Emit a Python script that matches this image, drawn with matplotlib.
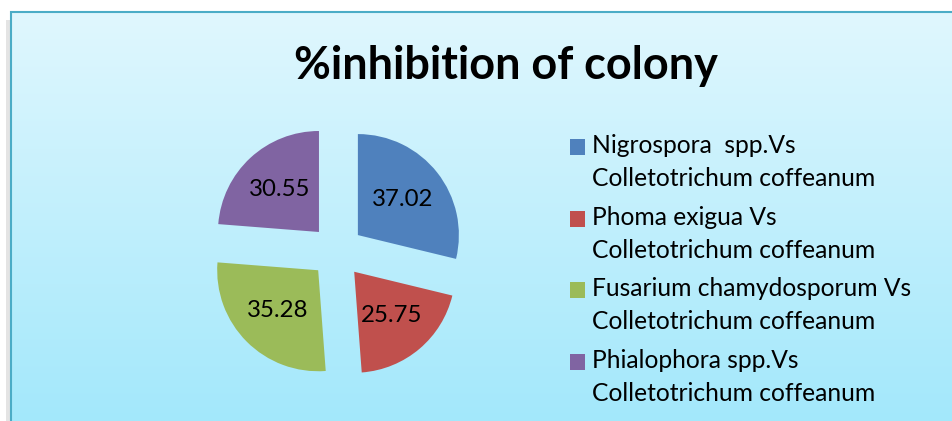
import matplotlib.pyplot as plt
import numpy as np
from matplotlib.patches import Rectangle
from matplotlib.legend_handler import HandlerPatch

plt.rcParams['font.family'] = ['Lato', 'DejaVu Sans']

labels = ['Nigrospora  spp.Vs\nColletotrichum coffeanum',
          'Phoma exigua Vs\nColletotrichum coffeanum',
          'Fusarium chamydosporum Vs\nColletotrichum coffeanum',
          'Phialophora spp.Vs\nColletotrichum coffeanum']
values = [37.02, 25.75, 35.28, 30.55]
colors = ['#4F81BD', '#C0504D', '#9BBB59', '#8064A2']

W, H = 952, 421
fig = plt.figure(figsize=(W / 100, H / 100), dpi=100)
fig.patch.set_facecolor('white')

# gradient background inside the chart frame
bg = fig.add_axes([11 / W, 0, 1 - 11 / W, 1 - 12 / H])
grad = np.linspace(0, 1, 256).reshape(-1, 1)
top = np.array([0xE0, 0xF7, 0xFE]) / 255
bot = np.array([0xA3, 0xE8, 0xFB]) / 255
img = top + (bot - top) * grad[..., None]
bg.imshow(img, aspect='auto', extent=[0, 1, 0, 1], origin='upper')
bg.set_xlim(0, 1)
bg.set_ylim(0, 1)
bg.axis('off')
fig.patches.append(Rectangle((11 / W, -0.01), 1.0, 1 - 12 / H + 0.01,
                             transform=fig.transFigure, fill=False,
                             edgecolor='#4BACC6', lw=1.5, zorder=5))
fig.patches.append(Rectangle((6 / W, -0.01), 4 / W, 1 - 16 / H,
                             transform=fig.transFigure, facecolor='#E4E4E4',
                             edgecolor='none', zorder=4))

# pie
cx, cy, r = 337, 251.5, 101
side = r * 2.8
ax = fig.add_axes([(cx - side / 2) / W, (H - cy - side / 2) / H, side / W, side / H])
wedges, _, autotexts = ax.pie(values, colors=colors, startangle=90, counterclock=False,
                              explode=[0.263] * 4, autopct=lambda p: '',
                              pctdistance=0.57, wedgeprops=dict(linewidth=0))
for t, v in zip(autotexts, values):
    t.set_text(f'{v:.2f}')
    t.set_fontsize(17.3)
    t.set_color('black')
ax.set_xlim(-1.4, 1.4)
ax.set_ylim(-1.4, 1.4)
ax.set_aspect('equal')
ax.axis('off')

fig.text(506 / W, 1 - 66 / H, '%inhibition of colony', ha='center', va='center',
         fontsize=32.4, fontweight='bold')

leg_fs = 17.7
line_sp = 1.54


def top_square(legend, orig_handle, xdescent, ydescent, width, height, fontsize):
    # put the square beside the first line of the two-line label
    shift = 11.3
    return Rectangle((-xdescent, -ydescent + shift), width, height)


leg = fig.legend(wedges, labels, loc='upper left', bbox_to_anchor=(570 / W, 1 - 134 / H),
                 frameon=False, fontsize=leg_fs, handlelength=0.6, handleheight=0.6,
                 handletextpad=0.3, labelspacing=0.62, borderpad=0, borderaxespad=0,
                 handler_map={w: HandlerPatch(patch_func=top_square) for w in wedges})
for t in leg.get_texts():
    t.set_linespacing(line_sp)

fig.savefig('out.png', dpi=100)
